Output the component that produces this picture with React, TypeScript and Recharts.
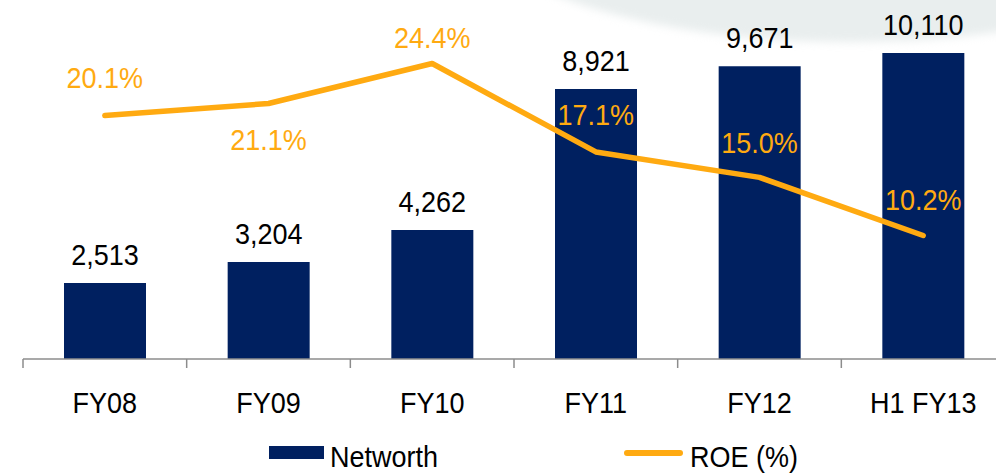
import React from "react"
import { ComposedChart, Bar, Line, XAxis, YAxis, Legend, LabelList } from "recharts"

const categories = ["FY08", "FY09", "FY10", "FY11", "FY12", "H1 FY13"]
const networth = [2513, 3204, 4262, 8921, 9671, 10110]
const roe = [20.1, 21.1, 24.4, 17.1, 15.0, 10.2]

// where each ROE label sits relative to its point (baseline offset)
const roeLabelDy = [-28, 47, -16, -27, -24, -25]

const data = categories.map((name, i) => ({ name, networth: networth[i], roe: roe[i] }))

const NAVY = "#002060"
const ORANGE = "#FFAA11"
const FONT = "'Liberation Sans', Arial, sans-serif"
const FS = 27
const SY = 1.08

const CHART_W = 1010
const CHART_H = 474
const MARGIN = { top: 26, right: 5, bottom: 0, left: 23 }
const BAND = (CHART_W - MARGIN.left - MARGIN.right) / categories.length

function Txt({ x, y, fill = "#000", children }: any) {
  return (
    <text
      x={0}
      y={0}
      transform={`translate(${x},${y}) scale(1,${SY})`}
      textAnchor="middle"
      fontSize={FS}
      fontFamily={FONT}
      fill={fill}
    >
      {children}
    </text>
  )
}

function CategoryTick(props: any) {
  const { x, y, payload } = props
  const left = x - BAND / 2
  return (
    <g>
      <line x1={left} y1={y} x2={left} y2={y + 9} stroke="#8c8c8c" strokeWidth={1.5} />
      <Txt x={x} y={y + 54}>{payload.value}</Txt>
    </g>
  )
}

function BarValue(props: any) {
  const { x, y, width, value } = props
  return <Txt x={x + width / 2} y={y - 18}>{value.toLocaleString("en-US")}</Txt>
}

function RoeLabel(props: any) {
  const { x, y, value, index } = props
  return (
    <Txt x={x} y={y + roeLabelDy[index]} fill={ORANGE}>
      {value.toFixed(1)}%
    </Txt>
  )
}

function LegendBox() {
  return (
    <svg width={996} height={36} style={{ display: "block" }}>
      <rect x={269} y={8} width={55} height={13} fill={NAVY} />
      <text x={0} y={0} transform={`translate(0,29) scale(1,${SY})`} fontSize={FS} fontFamily={FONT} fill="#000">
        <tspan x={330}>Networth</tspan>
      </text>
      <line x1={627} y1={15} x2={680} y2={15} stroke={ORANGE} strokeWidth={6} strokeLinecap="round" />
      <text x={0} y={0} transform={`translate(0,29) scale(1,${SY})`} fontSize={FS} fontFamily={FONT} fill="#000">
        <tspan x={690}>ROE (%)</tspan>
      </text>
    </svg>
  )
}

export default function App() {
  return (
    <div
      style={{
        position: "absolute",
        left: 0,
        top: 0,
        width: 996,
        height: 474,
        overflow: "hidden",
        background: "#fff",
      }}
    >
      <div
        style={{
          position: "absolute",
          left: 460,
          top: -230,
          width: 780,
          height: 272,
          borderRadius: "50%",
          background: "#e9eeee",
          filter: "blur(4px)",
        }}
      />
      <div style={{ position: "absolute", left: 0, top: 0 }}>
        <ComposedChart width={CHART_W} height={CHART_H} data={data} margin={MARGIN}>
          <XAxis
            dataKey="name"
            height={79}
            tickLine={false}
            tickSize={0}
            tickMargin={0}
            axisLine={{ stroke: "#8c8c8c", strokeWidth: 1.5 }}
            tick={<CategoryTick />}
            interval={0}
          />
          <YAxis yAxisId="left" hide domain={[0, 11000]} />
          <YAxis yAxisId="right" hide orientation="right" domain={[0, 27.5]} />
          <Legend
            verticalAlign="bottom"
            wrapperStyle={{ left: 0, width: 996 }}
            content={() => <LegendBox />}
          />
          <Bar yAxisId="left" dataKey="networth" name="Networth" fill={NAVY} barSize={82} isAnimationActive={false}>
            <LabelList dataKey="networth" content={<BarValue />} />
          </Bar>
          <Line
            yAxisId="right"
            dataKey="roe"
            name="ROE (%)"
            stroke={ORANGE}
            strokeWidth={5.5}
            strokeLinecap="round"
            strokeLinejoin="round"
            dot={false}
            activeDot={false}
            label={<RoeLabel />}
            isAnimationActive={false}
          />
        </ComposedChart>
      </div>
    </div>
  )
}
